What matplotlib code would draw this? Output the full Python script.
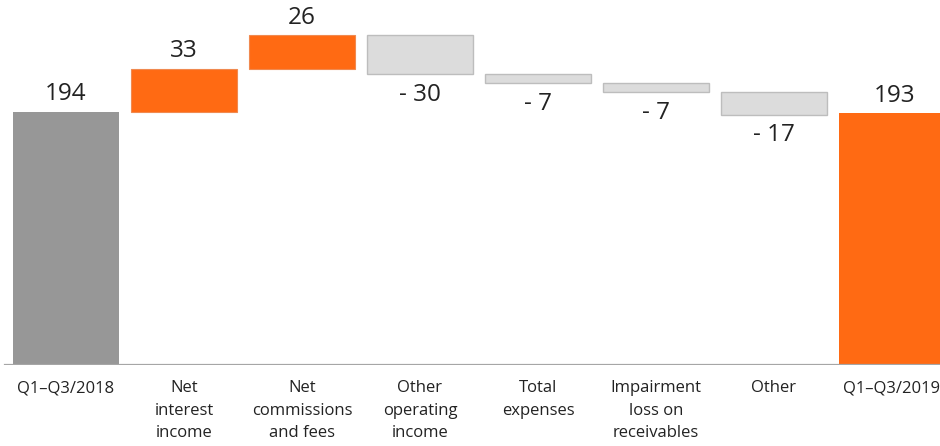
import numpy as np
import matplotlib.pyplot as plt

# Waterfall data
categories = ["Q1–Q3/2018", "Net\ninterest\nincome", "Net\ncommissions\nand fees",
              "Other\noperating\nincome", "Total\nexpenses", "Impairment\nloss on\nreceivables",
              "Other", "Q1–Q3/2019"]
start_value = 194
steps = [33, 26, -30, -7, -7, -17]
end_value = 193

orange = "#FF6A13"
dark_gray = "#979797"
light_gray = "#DCDCDC"
edge_gray = "#BDBDBD"

plt.rcParams['font.family'] = ['Open Sans', 'DejaVu Sans']

fig = plt.figure(figsize=(9.4, 4.46), dpi=100)
ax = fig.add_axes([0, 81 / 446, 1, 365 / 446])

x = np.arange(len(categories))
width = 0.9

# start bar
ax.bar(x[0], start_value, width=width, color=dark_gray)
ax.annotate(str(start_value), (x[0], start_value), xytext=(0, 4), textcoords="offset points",
            ha="center", va="bottom", fontsize=17.5, color="#222222")

# steps
level = start_value
for i, s in enumerate(steps, start=1):
    bottom = level if s > 0 else level + s
    if s > 0:
        ax.bar(x[i], s, bottom=bottom, width=width, color=orange, edgecolor="#F08A50", linewidth=0.8)
        ax.annotate(str(s), (x[i], level + s), xytext=(0, 4), textcoords="offset points",
                    ha="center", va="bottom", fontsize=17.5, color="#222222")
    else:
        ax.bar(x[i], -s, bottom=bottom, width=width, color=light_gray, edgecolor=edge_gray, linewidth=1.0)
        ax.annotate("- %d" % (-s), (x[i], bottom), xytext=(0, -6), textcoords="offset points",
                    ha="center", va="top", fontsize=17.5, color="#222222")
    level += s

# end bar
ax.bar(x[-1], end_value, width=width, color=orange)
ax.annotate(str(end_value), (x[-1], end_value), xytext=(2, 4), textcoords="offset points",
            ha="center", va="bottom", fontsize=17.5, color="#222222")

ax.axhline(0, xmin=5 / 940, color="#A6A6A6", linewidth=1.6, zorder=3)

ax.set_xlim(-66 / 118, (940 - 66) / 118)
ax.set_ylim(0, 365 / 1.304)
ax.set_xticks(x)
ax.set_xticklabels(categories, fontsize=12, color="#222222", linespacing=1.55, va="top")
ax.tick_params(axis="x", length=0, pad=11)
ax.set_yticks([])
for sp in ax.spines.values():
    sp.set_visible(False)

fig.savefig("out.png", dpi=100)
